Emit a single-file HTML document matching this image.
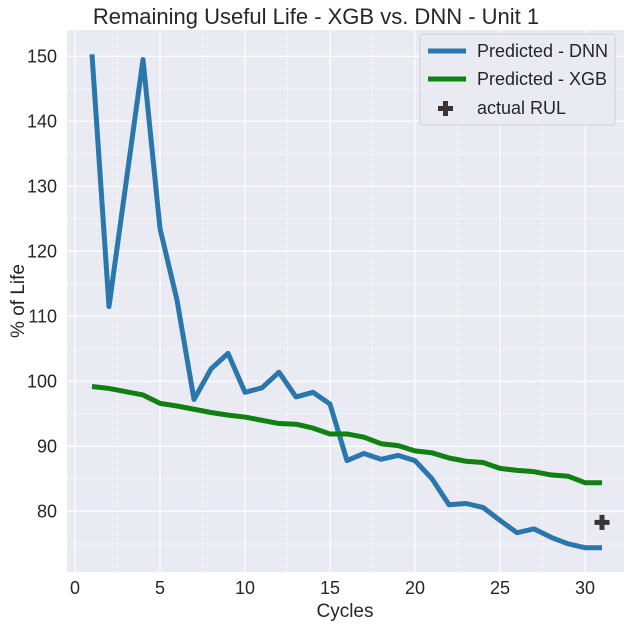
<!DOCTYPE html>
<html><head><meta charset="utf-8"><style>
body{margin:0;background:#fff;}
svg text{font-family:"Liberation Sans",sans-serif;fill:#262626;}
</style></head><body>
<svg id="chart" width="631" height="627" xmlns="http://www.w3.org/2000/svg">
<rect x="67" y="30" width="557" height="542" fill="#eaeaf2"/>
<g id="grid"></g><g id="ticks"></g><g id="series"></g>
<text x="316" y="24" font-size="22" text-anchor="middle">Remaining Useful Life - XGB vs. DNN - Unit 1</text>
<text x="345" y="617" font-size="19" text-anchor="middle">Cycles</text>
<text transform="translate(24,301) rotate(-90)" font-size="19" text-anchor="middle">% of Life</text>
<g>
<rect x="420" y="34" width="195" height="91" rx="3" fill="#eaeaf2" stroke="#cfcfd8"/>
<line x1="428" y1="51" x2="466" y2="51" stroke="#2a77ad" stroke-width="5"/>
<text x="477" y="57" font-size="18">Predicted - DNN</text>
<line x1="428" y1="79" x2="466" y2="79" stroke="#108010" stroke-width="5"/>
<text x="477" y="85" font-size="18">Predicted - XGB</text>
<path d="M443,101h5v5h5v5h-5v5h-5v-5h-5v-5h5z" fill="#3a3436"/>
<text x="477" y="114" font-size="18">actual RUL</text>
</g>
</svg>
<script>
const cycles=[1,2,3,4,5,6,7,8,9,10,11,12,13,14,15,16,17,18,19,20,21,22,23,24,25,26,27,28,29,30,31];
const dnn=[150.3,111.5,130.5,149.5,123.5,112.5,97.2,101.9,104.3,98.3,99,101.4,97.6,98.3,96.5,87.8,88.9,88,88.6,87.8,85,81,81.2,80.6,78.6,76.7,77.3,76,75,74.4,74.4];
const xgb=[99.2,98.9,98.4,97.9,96.6,96.2,95.7,95.2,94.8,94.5,94.0,93.5,93.4,92.8,91.9,91.9,91.4,90.4,90.1,89.3,89.0,88.2,87.7,87.5,86.6,86.3,86.1,85.6,85.4,84.4,84.4];
const actualX=[31];
const actualY=[78.3];
const xTicks=[0,5,10,15,20,25,30];
const yTicks=[80,90,100,110,120,130,140,150];
const X=v=>75+v*17.0;
const Y=v=>381.3-(v-100)*6.5;
const NS="http://www.w3.org/2000/svg";
function mk(tag,attrs,parent){const e=document.createElementNS(NS,tag);for(const k in attrs)e.setAttribute(k,attrs[k]);parent.appendChild(e);return e;}
const grid=document.getElementById('grid'),ticks=document.getElementById('ticks'),series=document.getElementById('series');
for(let v=2.5;v<32;v+=5){const l=mk('line',{x1:X(v),x2:X(v),y1:30,y2:572,stroke:'#fff','stroke-width':0.8,'stroke-dasharray':'2,2'},grid);

}
for(let v=75;v<155;v+=10){const l=mk('line',{x1:67,x2:624,y1:Y(v),y2:Y(v),stroke:'#fff','stroke-width':0.8,'stroke-dasharray':'2,2'},grid);

}
xTicks.forEach(v=>{const l=mk('line',{x1:X(v),x2:X(v),y1:30,y2:572,stroke:'#fff','stroke-width':1.2},grid);


const t=mk('text',{x:X(v),y:594,'font-size':18,'text-anchor':'middle'},ticks);t.textContent=v;

});
yTicks.forEach(v=>{const l=mk('line',{x1:67,x2:624,y1:Y(v),y2:Y(v),stroke:'#fff','stroke-width':1.2},grid);


const t=mk('text',{x:57,y:Y(v)+6,'font-size':18,'text-anchor':'end'},ticks);t.textContent=v;

});
const p1=mk('polyline',{points:cycles.map((c,i)=>X(c)+','+Y(dnn[i])).join(' '),fill:'none',stroke:'#2a77ad','stroke-width':5,'stroke-linejoin':'round'},series);


const p2=mk('polyline',{points:cycles.map((c,i)=>X(c)+','+Y(xgb[i])).join(' '),fill:'none',stroke:'#108010','stroke-width':5,'stroke-linejoin':'round'},series);


actualX.forEach((c,i)=>{const x=X(c),y=Y(actualY[i]);
const m=mk('path',{d:`M${x-2.5},${y-7.5}h5v5h5v5h-5v5h-5v-5h-5v-5h5z`,fill:'#3a3436'},series);

});
</script>
</body></html>
